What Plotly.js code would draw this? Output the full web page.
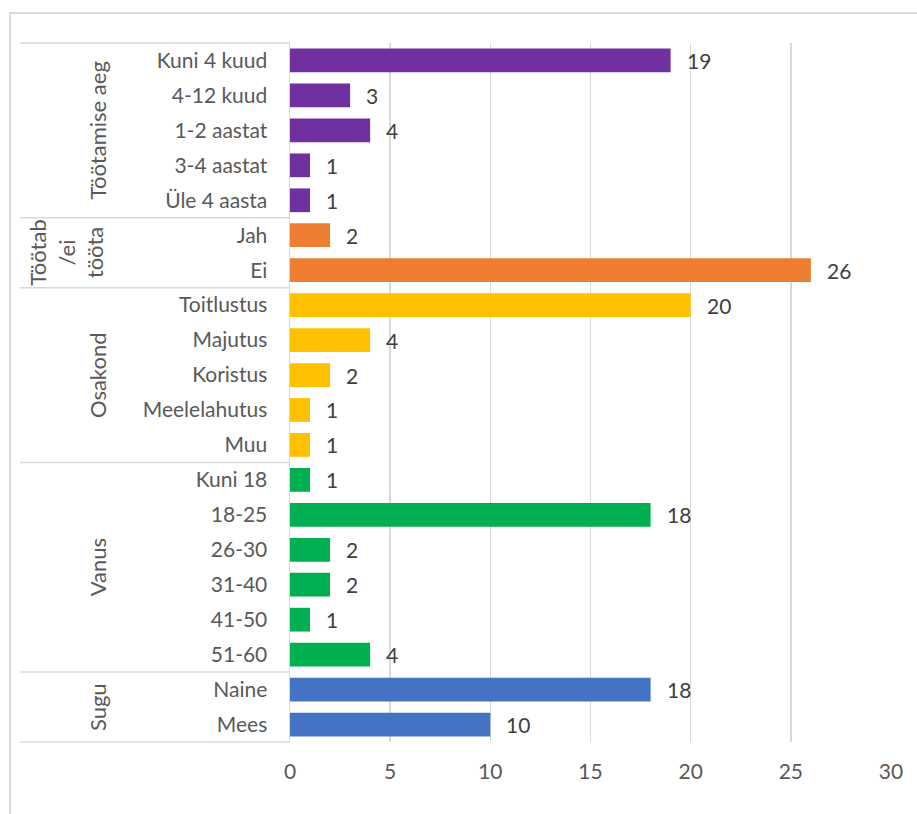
<!DOCTYPE html>
<html>
<head>
<meta charset="utf-8">
<script src="https://cdn.plot.ly/plotly-3.0.1.min.js"></script>
<style>html,body{margin:0;padding:0;background:#fff;}#chart{width:917px;height:814px;}</style>
</head>
<body>
<div id="chart"></div>
<script>
// ---- data ----
var groupNames = ["Töötamise aeg", "Töötab<br>/ei<br>tööta", "Osakond", "Vanus", "Sugu"];
var groupColors = ["#7030A0", "#ED7D31", "#FFC000", "#00B050", "#4472C4"];
var catTootamine = ["Kuni 4 kuud", "4-12 kuud", "1-2 aastat", "3-4 aastat", "Üle 4 aasta"];
var valTootamine = [19, 3, 4, 1, 1];
var catTootab = ["Jah", "Ei"];
var valTootab = [2, 26];
var catOsakond = ["Toitlustus", "Majutus", "Koristus", "Meelelahutus", "Muu"];
var valOsakond = [20, 4, 2, 1, 1];
var catVanus = ["Kuni 18", "18-25", "26-30", "31-40", "41-50", "51-60"];
var valVanus = [1, 18, 2, 2, 1, 4];
var catSugu = ["Naine", "Mees"];
var valSugu = [18, 10];
var xTicks = [0, 5, 10, 15, 20, 25, 30];

var groupCats = [catTootamine, catTootab, catOsakond, catVanus, catSugu];
var groupVals = [valTootamine, valTootab, valOsakond, valVanus, valSugu];

// ---- layout geometry ----
var W = 917, H = 814;
var M = {l: 290, r: 26, t: 43, b: 72};
var PW = W - M.l - M.r, PH = H - M.t - M.b;
function px2x(px){ return (px - M.l) / PW; }
function py2y(py){ return (M.t + PH - py) / PH; }

var cats = [], vals = [], cols = [];
groupCats.forEach(function(g, gi){
  g.forEach(function(c, ci){
    cats.push(c); vals.push(groupVals[gi][ci]); cols.push(groupColors[gi]);
  });
});
var N = cats.length;

var font = "Lato, 'Open Sans', sans-serif";
var FS = 21;
var trace = {
  type: 'bar', orientation: 'h',
  x: vals, y: cats,
  marker: {color: cols},
  width: 0.68,
  hoverinfo: 'x+y'
};

var annotations = [];
cats.forEach(function(c, i){
  annotations.push({
    x: vals[i], y: c, xref: 'x', yref: 'y', text: String(vals[i]),
    showarrow: false, xanchor: 'left', xshift: 14,
    font: {family: font, size: FS, color: '#404040'}
  });
});

var shapes = [];
var start = 0;
var bounds = [0];
groupCats.forEach(function(g, gi){
  var end = start + g.length;
  bounds.push(end);
  var mid = (start + end - 1) / 2;
  annotations.push({
    x: gi === 1 ? px2x(66) : px2x(97), xref: 'paper',
    y: mid, yref: 'y',
    text: groupNames[gi], textangle: -90, showarrow: false,
    xanchor: 'center', yanchor: 'middle',
    font: {family: font, size: FS + 1, color: '#595959'}
  });
  start = end;
});
bounds.forEach(function(b){
  shapes.push({type: 'line', xref: 'paper', yref: 'paper',
    x0: px2x(20), x1: 0, y0: 1 - b / N, y1: 1 - b / N,
    line: {color: '#d9d9d9', width: 1.5}});
});
// chart area border
shapes.push({type: 'rect', xref: 'paper', yref: 'paper',
  x0: px2x(10), x1: px2x(W + 20), y0: py2y(13), y1: py2y(H + 20),
  line: {color: '#d9d9d9', width: 2}, layer: 'below'});

var layout = {
  width: W, height: H,
  margin: M,
  paper_bgcolor: '#fff', plot_bgcolor: '#fff',
  showlegend: false,
  font: {family: font, size: FS, color: '#595959'},
  xaxis: {
    range: [0, 30], tickvals: xTicks, ticktext: xTicks.map(String),
    showgrid: true, gridcolor: '#d9d9d9', gridwidth: 1.5,
    zeroline: false, showline: false, ticks: '',
    ticklabelstandoff: 15,
    tickfont: {family: font, size: FS, color: '#595959'},
    fixedrange: true
  },
  yaxis: {
    type: 'category', categoryorder: 'array', categoryarray: cats,
    autorange: 'reversed',
    showgrid: false, zeroline: false,
    showline: true, linecolor: '#d9d9d9', linewidth: 1.5,
    ticks: '', ticklabelstandoff: 17,
    tickfont: {family: font, size: FS, color: '#595959'},
    fixedrange: true
  },
  annotations: annotations,
  shapes: shapes
};

Plotly.newPlot('chart', [trace], layout, {displayModeBar: false, staticPlot: true});
</script>
</body>
</html>
